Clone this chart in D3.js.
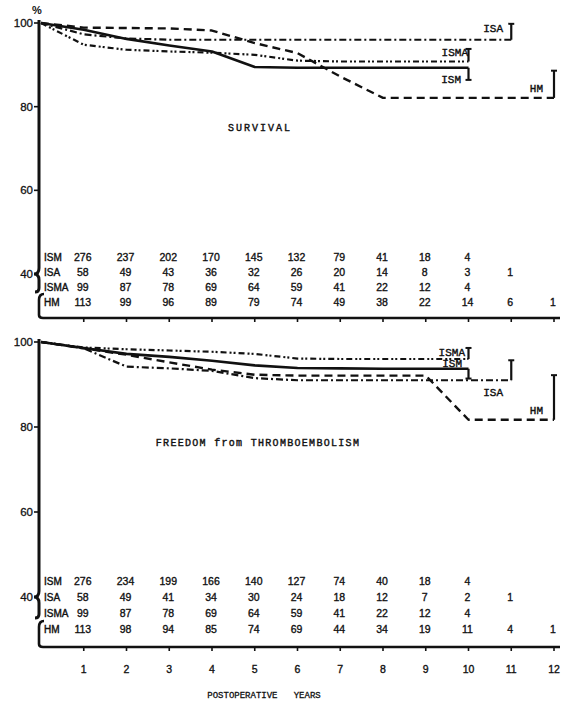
<!DOCTYPE html>
<html><head><meta charset="utf-8">
<script src="https://cdn.jsdelivr.net/npm/d3@7/dist/d3.min.js"></script>
<style>
body{margin:0;background:#fff;}
svg{display:block;}
</style></head><body>
<svg id="chart" width="562" height="703"></svg>
<script>
// ---------- DATA ----------
const seriesNames = ["ISM", "ISA", "ISMA", "HM"];
const yTickValues = [100, 80, 60, 40];
const xTickValues = [1, 2, 3, 4, 5, 6, 7, 8, 9, 10, 11, 12];
const xAxisTitle = "POSTOPERATIVE   YEARS";
const survTitle = "SURVIVAL";
const freeTitle = "FREEDOM from THROMBOEMBOLISM";

// Survival (%) at postoperative years 0,1,2,...
const survISM  = [100, 98.4, 96.2, 94.6, 93.2, 89.5, 89.3, 89.3, 89.3, 89.3, 89.3];
const survISA  = [100, 97.3, 96.3, 96.0, 96.0, 96.0, 96.0, 96.0, 96.0, 96.0, 96.0, 96.0];
const survISMA = [100, 94.8, 93.6, 93.2, 92.9, 92.4, 91.0, 90.8, 90.8, 90.8, 90.8];
const survHM   = [100, 98.9, 98.8, 98.7, 98.2, 95.2, 92.8, 87.2, 82.1, 82.1, 82.1, 82.1, 82.1];
// end-point limit bars (ISM, ISA, ISMA, HM)
const survLimits = [86.4, 99.8, 93.8, 88.6];

// Freedom from thromboembolism (%)
const freeISM  = [100, 98.6, 97.2, 96.5, 95.6, 94.5, 93.9, 93.8, 93.7, 93.7, 93.7];
const freeISA  = [100, 98.5, 94.2, 93.8, 93.2, 91.5, 91.0, 91.0, 91.0, 91.0, 91.0, 91.0];
const freeISMA = [100, 98.7, 98.3, 98.0, 97.7, 97.2, 96.1, 96.0, 96.0, 96.0, 96.0];
const freeHM   = [100, 98.5, 97.0, 95.2, 93.5, 92.3, 92.1, 92.1, 92.1, 92.1, 81.7, 81.7, 81.7];
const freeLimits = [91.4, 95.7, 98.6, 92.2];

// Patients at risk (columns under years 1..12)
const survRiskISM  = [276, 237, 202, 170, 145, 132, 79, 41, 18, 4];
const survRiskISA  = [58, 49, 43, 36, 32, 26, 20, 14, 8, 3, 1];
const survRiskISMA = [99, 87, 78, 69, 64, 59, 41, 22, 12, 4];
const survRiskHM   = [113, 99, 96, 89, 79, 74, 49, 38, 22, 14, 6, 1];
const freeRiskISM  = [276, 234, 199, 166, 140, 127, 74, 40, 18, 4];
const freeRiskISA  = [58, 49, 41, 34, 30, 24, 18, 12, 7, 2, 1];
const freeRiskISMA = [99, 87, 78, 69, 64, 59, 41, 22, 12, 4];
const freeRiskHM   = [113, 98, 94, 85, 74, 69, 44, 34, 19, 11, 4, 1];

// ---------- STYLE ----------
const dashes = { ISM: null, ISA: "7,3,2,3", ISMA: "6,3,2,2,2,3", HM: "8,5" };
const widths = { ISM: 2.6, ISA: 2.2, ISMA: 2.2, HM: 2.4 };
const mono = "'Liberation Mono','Courier New',monospace";
const sans = "'Liberation Sans',Arial,sans-serif";
const ink = "#111";

const svg = d3.select("#chart");
const x = d3.scaleLinear().domain([0, 12]).range([41, 554]);
const x0 = x(0) - 2;

function inkText(sel, w) {
  return sel.attr("fill", ink).attr("stroke", ink).attr("stroke-width", w)
    .attr("paint-order", "stroke");
}

function drawPanel(cfg) {
  const y = d3.scaleLinear().domain([40, 100]).range(cfg.yRange);
  const g = svg.append("g");

  // y axis with break
  const y40 = y(40);
  const rISMA = cfg.rows[2], rHM = cfg.rows[3];
  const axisPath = d3.path();
  axisPath.moveTo(x0, y(100) - 3);
  axisPath.lineTo(x0, y40 - 6);
  axisPath.quadraticCurveTo(x0, y40, x0 - 5, y40);
  axisPath.quadraticCurveTo(x0, y40, x0, y40 + 6);
  axisPath.lineTo(x0, rISMA + 1);
  axisPath.quadraticCurveTo(x0, rISMA + 5, x0 - 4, rISMA + 5);
  g.append("path").attr("d", axisPath.toString()).attr("fill", "none")
    .attr("stroke", ink).attr("stroke-width", 3);

  const hook = d3.path();
  hook.moveTo(x0 + 5, rHM - 8);
  hook.quadraticCurveTo(x0, rHM - 8, x0, rHM - 2);
  hook.lineTo(x0, cfg.axisY - 3);
  hook.quadraticCurveTo(x0, cfg.axisY, x0 + 4, cfg.axisY);
  hook.lineTo(x(12) + 6, cfg.axisY);
  g.append("path").attr("d", hook.toString()).attr("fill", "none")
    .attr("stroke", ink).attr("stroke-width", 2.6);

  // x ticks
  g.selectAll(".xt").data(xTickValues).join("line")
    .attr("x1", d => x(d)).attr("x2", d => x(d))
    .attr("y1", cfg.axisY).attr("y2", cfg.axisY + 4)
    .attr("stroke", ink).attr("stroke-width", 1.6);

  // y ticks & labels
  g.selectAll(".yt").data(yTickValues.filter(v => v !== 40)).join("line")
    .attr("x1", x0 - 5).attr("x2", x0).attr("y1", d => y(d)).attr("y2", d => y(d))
    .attr("stroke", ink).attr("stroke-width", 1.6);
  inkText(g.selectAll(".yl").data(yTickValues).join("text")
    .attr("x", x0 - 6).attr("y", d => y(d) + 4)
    .attr("text-anchor", "end").attr("font-family", sans).attr("font-size", 11.5)
    .text(d => d), 0.3);
  if (cfg.percent) {
    g.append("text").attr("x", x0 - 2).attr("y", y(100) - 9)
      .attr("text-anchor", "middle").attr("font-family", sans).attr("font-size", 11)
      .attr("font-weight", "bold").attr("fill", ink).text("%");
  }

  // curves
  const line = d3.line().x((d, i) => x(i)).y(d => y(d));
  cfg.series.forEach((vals, k) => {
    const name = seriesNames[k];
    const p = g.append("path").datum(vals).attr("d", line)
      .attr("fill", "none").attr("stroke", ink)
      .attr("stroke-width", widths[name]).attr("stroke-linejoin", "round");
    if (dashes[name]) p.attr("stroke-dasharray", dashes[name]);
    // limit bar at end
    const tEnd = vals.length - 1;
    const vEnd = vals[tEnd];
    const lim = cfg.limits[k];
    const bx = x(tEnd);
    g.append("line").attr("x1", bx).attr("x2", bx)
      .attr("y1", y(vEnd)).attr("y2", y(lim))
      .attr("stroke", ink).attr("stroke-width", 2.2);
    g.append("line").attr("x1", bx - 3).attr("x2", bx + 3)
      .attr("y1", y(lim)).attr("y2", y(lim))
      .attr("stroke", ink).attr("stroke-width", 2);
  });

  // curve labels
  cfg.labels.forEach((lb, k) => {
    inkText(g.append("text").attr("x", lb[0]).attr("y", lb[1])
      .attr("font-family", mono).attr("font-size", 11)
      .attr("text-anchor", "end").text(seriesNames[k]), 0.4);
  });

  // title
  inkText(g.append("text").attr("x", cfg.title[1]).attr("y", cfg.title[2])
    .attr("text-anchor", "middle").attr("font-family", mono)
    .attr("font-size", 10).attr("letter-spacing", cfg.title[3])
    .text(cfg.title[0]), 0.4);

  // at-risk table
  cfg.risk.forEach((row, k) => {
    inkText(g.append("text").attr("x", x0 + 5).attr("y", cfg.rows[k] + 4)
      .attr("font-family", sans).attr("font-size", 10)
      .text(seriesNames[k]), 0.4);
    inkText(g.selectAll(".r" + k).data(row).join("text")
      .attr("x", (d, i) => x(i + 1) - 1).attr("y", cfg.rows[k] + 4)
      .attr("text-anchor", "middle").attr("font-family", sans)
      .attr("font-size", 10.5).text(d => d), 0.35);
  });
}

drawPanel({
  yRange: [274, 23], axisY: 318, rows: [257, 272, 287, 302], percent: true,
  series: [survISM, survISA, survISMA, survHM], limits: survLimits,
  labels: [[461, 83], [503, 32], [468, 56], [543, 92]],
  title: [survTitle, 260, 131, 2],
  risk: [survRiskISM, survRiskISA, survRiskISMA, survRiskHM]
});

drawPanel({
  yRange: [597, 342], axisY: 647, rows: [581, 597, 613, 629], percent: false,
  series: [freeISM, freeISA, freeISMA, freeHM], limits: freeLimits,
  labels: [[462, 367], [503, 396], [465, 356], [543, 414]],
  title: [freeTitle, 258, 446, 1.3],
  risk: [freeRiskISM, freeRiskISA, freeRiskISMA, freeRiskHM]
});

// x tick labels (bottom only)
inkText(svg.selectAll(".xl").data(xTickValues).join("text")
  .attr("x", d => x(d)).attr("y", 673)
  .attr("text-anchor", "middle").attr("font-family", sans).attr("font-size", 10.5)
  .text(d => d), 0.35);

inkText(svg.append("text").attr("x", 264).attr("y", 698).attr("text-anchor", "middle")
  .attr("font-family", mono).attr("font-size", 9)
  .attr("xml:space", "preserve").style("white-space", "pre").text(xAxisTitle), 0.3);
</script>
</body></html>
